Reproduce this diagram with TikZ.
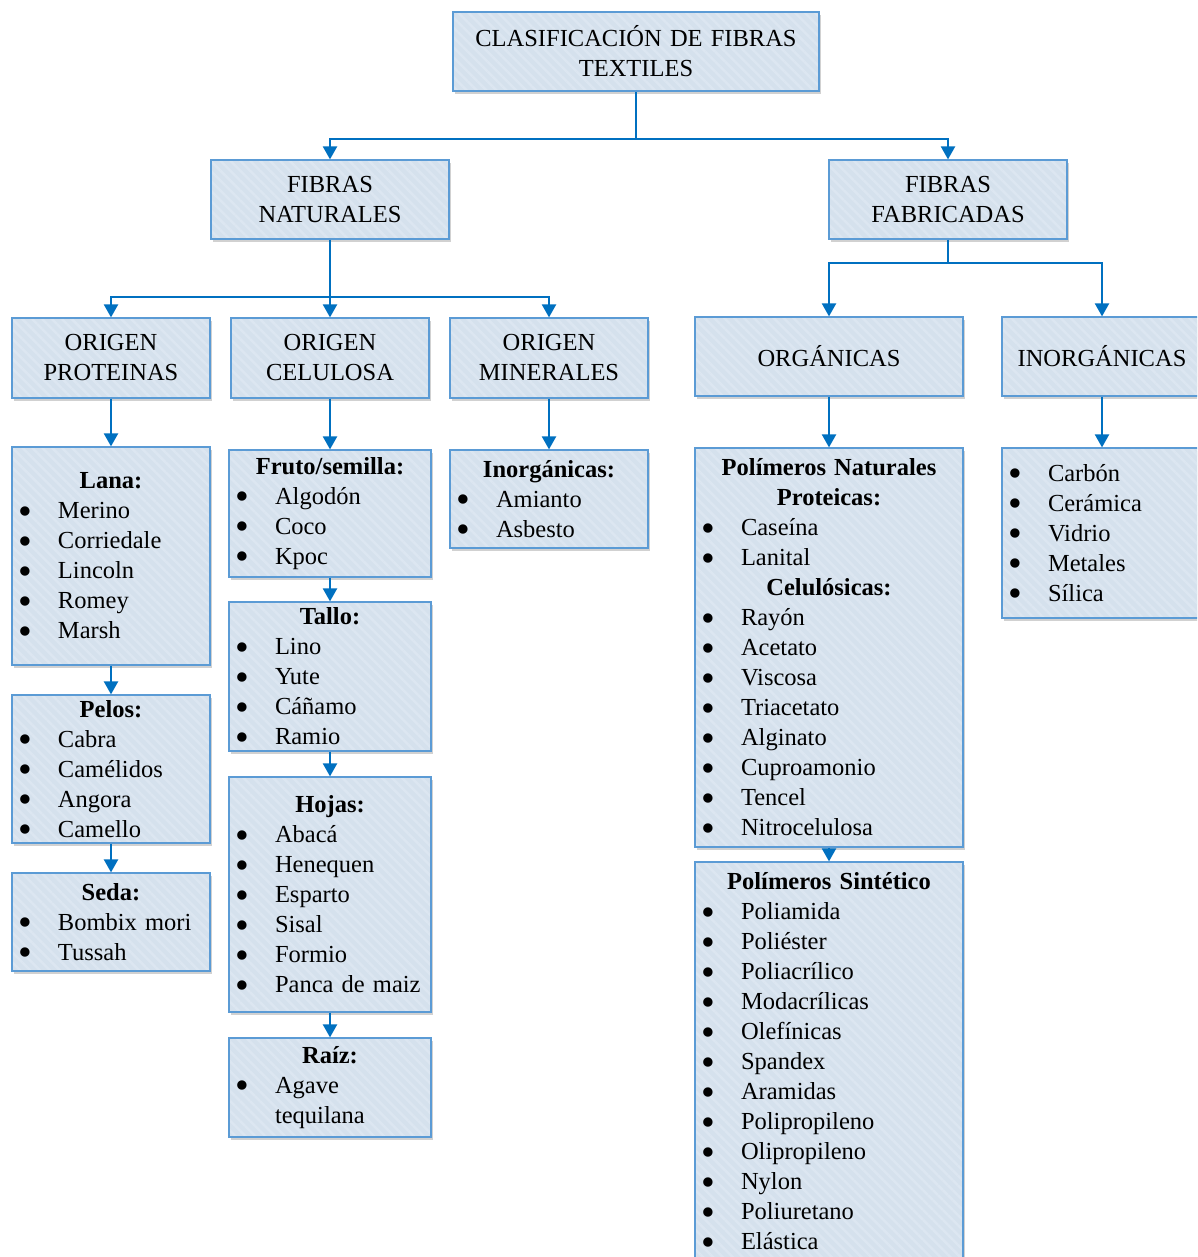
\documentclass[tikz,border=0pt]{standalone}
\usepackage{fontspec}
\setmainfont{Liberation Serif}
\usepackage{graphicx}
\usepackage{xcolor}
\definecolor{boxfill}{HTML}{D5E1ED}
\definecolor{boxhatch}{HTML}{DCE6F1}
\definecolor{boxline}{HTML}{5B9BD5}
\definecolor{linkblue}{HTML}{0070C0}
\newcommand{\itm}[1]{\makebox[\hsize][l]{\hspace*{6pt}\makebox[40pt][l]{%
  \smash{\raisebox{-0.22em}{\scalebox{1.6}{\textbullet}}}}#1}}
\newcommand{\cont}[1]{\makebox[\hsize][l]{\hspace*{46pt}#1}}
\usetikzlibrary{arrows.meta,shadows,patterns.meta}

\begin{document}
\begin{tikzpicture}[x=1pt,y=-1pt,
  font=\fontsize{24.5}{30}\selectfont,
  box/.style={draw=boxline,line width=1.2pt,
              drop shadow={shadow xshift=2pt,shadow yshift=-3pt,
                           opacity=.3,fill=black!60},
              preaction={fill=boxfill},
              pattern={Lines[angle=-45,distance=7pt,line width=2.5pt]},
              pattern color=boxhatch,
              inner sep=0pt,align=center},
  link/.style={linkblue,line width=2.2pt},
  arr/.style={link,-{Triangle[width=14pt,length=13pt]}}]
  \useasboundingbox (0,0) rectangle (1197,1257);
  \clip (0,0) rectangle (1197,1257);
  % top levels
  \node[box,text width=366pt,minimum height=79pt] (title) at (636,51.5)
    {CLASIFICACIÓN DE FIBRAS\\TEXTILES};
  \node[box,text width=238pt,minimum height=79pt] (nat) at (330,199.5)
    {FIBRAS\\NATURALES};
  \node[box,text width=238pt,minimum height=79pt] (fab) at (948,199.5)
    {FIBRAS\\FABRICADAS};
  \node[box,text width=198pt,minimum height=80pt] (prot) at (111,358)
    {ORIGEN\\PROTEINAS};
  \node[box,text width=198pt,minimum height=80pt] (celu) at (330,358)
    {ORIGEN\\CELULOSA};
  \node[box,text width=198pt,minimum height=80pt] (mine) at (549,358)
    {ORIGEN\\MINERALES};
  \node[box,text width=268pt,minimum height=79pt] (org) at (829,356.5)
    {ORGÁNICAS};
  \node[box,text width=200pt,minimum height=79pt] (inorg) at (1102,356.5)
    {INORGÁNICAS};
  % proteins
  \node[box,text width=198pt,minimum height=218pt] (lana) at (111,556)
    {\textbf{Lana:}\\\itm{Merino}\\\itm{Corriedale}\\\itm{Lincoln}\\
     \itm{Romey}\\\itm{Marsh}};
  \node[box,text width=198pt,minimum height=148pt] (pelos) at (111,769)
    {\textbf{Pelos:}\\\itm{Cabra}\\\itm{Camélidos}\\\itm{Angora}\\\itm{Camello}};
  \node[box,text width=198pt,minimum height=98pt] (seda) at (111,922)
    {\textbf{Seda:}\\\itm{Bombix mori}\\\itm{Tussah}};
  % cellulose
  \node[box,text width=202pt,minimum height=127pt] (fruto) at (330,513.5)
    {\textbf{Fruto/semilla:}\\\itm{Algodón}\\\itm{Coco}\\\itm{Kpoc}};
  \node[box,text width=202pt,minimum height=149pt] (tallo) at (330,676.5)
    {\textbf{Tallo:}\\\itm{Lino}\\\itm{Yute}\\\itm{Cáñamo}\\\itm{Ramio}};
  \node[box,text width=202pt,minimum height=235pt] (hojas) at (330,894.5)
    {\textbf{Hojas:}\\\itm{Abacá}\\\itm{Henequen}\\\itm{Esparto}\\
     \itm{Sisal}\\\itm{Formio}\\\itm{Panca de maiz}};
  \node[box,text width=202pt,minimum height=99pt] (raiz) at (330,1087.5)
    {\textbf{Raíz:}\\\itm{Agave}\\\cont{tequilana}};
  % minerals
  \node[box,text width=198pt,minimum height=98pt] (minlist) at (549,499)
    {\textbf{Inorgánicas:}\\\itm{Amianto}\\\itm{Asbesto}};
  % manufactured
  \node[box,text width=268pt,minimum height=399pt] (pnat) at (829,647.5)
    {\textbf{Polímeros Naturales}\\\textbf{Proteicas:}\\\itm{Caseína}\\
     \itm{Lanital}\\\textbf{Celulósicas:}\\\itm{Rayón}\\\itm{Acetato}\\
     \itm{Viscosa}\\\itm{Triacetato}\\\itm{Alginato}\\\itm{Cuproamonio}\\
     \itm{Tencel}\\\itm{Nitrocelulosa}};
  \node[box,text width=268pt,minimum height=399pt] (psin) at (829,1061.5)
    {\textbf{Polímeros Sintético}\\\itm{Poliamida}\\\itm{Poliéster}\\
     \itm{Poliacrílico}\\\itm{Modacrílicas}\\\itm{Olefínicas}\\
     \itm{Spandex}\\\itm{Aramidas}\\\itm{Polipropileno}\\
     \itm{Olipropileno}\\\itm{Nylon}\\\itm{Poliuretano}\\\itm{Elástica}};
  \node[box,text width=200pt,minimum height=170pt] (ilist) at (1102,533)
    {\itm{Carbón}\\\itm{Cerámica}\\\itm{Vidrio}\\\itm{Metales}\\\itm{Sílica}};
  % connectors
  \draw[link] (title.south) -- ++(0,47) coordinate (bus1);
  \draw[arr] (bus1) -| (nat.north);
  \draw[arr] (bus1) -| (fab.north);
  \draw[link] (nat.south) -- ++(0,57) coordinate (bus2);
  \draw[arr] (bus2) -| (prot.north);
  \draw[arr] (bus2) -- (celu.north);
  \draw[arr] (bus2) -| (mine.north);
  \draw[link] (fab.south) -- ++(0,23) coordinate (bus3);
  \draw[arr] (bus3) -| (org.north);
  \draw[arr] (bus3) -| (inorg.north);
  \draw[arr] (prot.south) -- (lana.north);
  \draw[arr] (lana.south) -- (pelos.north);
  \draw[arr] (pelos.south) -- (seda.north);
  \draw[arr] (celu.south) -- (fruto.north);
  \draw[arr] (fruto.south) -- (tallo.north);
  \draw[arr] (tallo.south) -- (hojas.north);
  \draw[arr] (hojas.south) -- (raiz.north);
  \draw[arr] (mine.south) -- (minlist.north);
  \draw[arr] (org.south) -- (pnat.north);
  \draw[arr] (pnat.south) -- (psin.north);
  \draw[arr] (inorg.south) -- (ilist.north);
\end{tikzpicture}
\end{document}
